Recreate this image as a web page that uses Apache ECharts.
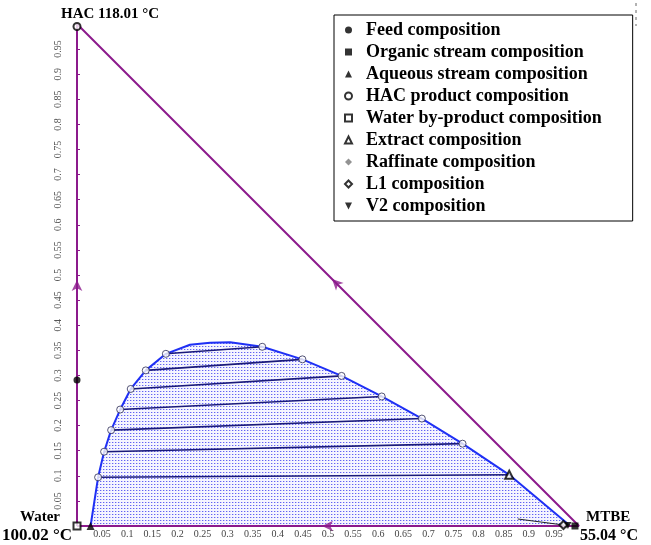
<!DOCTYPE html>
<html>
<head>
<meta charset="utf-8">
<script src="https://cdn.jsdelivr.net/npm/echarts@6/dist/echarts.min.js"></script>
<style>html,body{margin:0;padding:0;background:#fff}#c{width:651px;height:545px}</style>
</head>
<body>
<div id="c"></div>
<script>
// ---- data (mole fractions: x = MTBE, y = HAC) ----
var binodalX = [0.027, 0.042, 0.054, 0.068, 0.086, 0.107, 0.137, 0.177, 0.225, 0.265, 0.305, 0.369, 0.449, 0.527, 0.607, 0.687, 0.768, 0.861, 0.978];
var binodalY = [0.000, 0.097, 0.148, 0.191, 0.232, 0.273, 0.310, 0.343, 0.361, 0.365, 0.366, 0.357, 0.332, 0.299, 0.258, 0.214, 0.164, 0.102, 0.004];
var tieLeftX  = [0.042, 0.054, 0.068, 0.086, 0.107, 0.137, 0.177];
var tieLeftY  = [0.097, 0.148, 0.191, 0.232, 0.273, 0.310, 0.343];
var tieRightX = [0.861, 0.768, 0.687, 0.607, 0.527, 0.449, 0.369];
var tieRightY = [0.102, 0.164, 0.214, 0.258, 0.299, 0.332, 0.357];
var feedPt      = [0.000, 0.291];
var organicPt   = [0.992, 0.000];
var aqueousPt   = [0.027, 0.000];
var hacPt       = [0.000, 0.995];
var waterPt     = [0.000, 0.000];
var extractPt   = [0.861, 0.102];
var raffinatePt = [0.975, 0.002];
var l1Pt        = [0.969, 0.002];
var v2Pt        = [0.978, 0.001];
var azeoLabelPt = [0.878, 0.014];
var triangleX = [0, 1, 0, 0];
var triangleY = [0, 0, 1, 0];
var arrowX = [0.000, 0.488, 0.508];
var arrowY = [0.490, 0.000, 0.492];
var arrowRot = [0, 90, 45];
var tickStep = 0.05;

function zip(a, b) { return a.map(function (v, i) { return [v, b[i]]; }); }

var pat = document.createElement('canvas');
pat.width = 3; pat.height = 3;
var pc = pat.getContext('2d');
pc.fillStyle = '#f5f5ff'; pc.fillRect(0, 0, 3, 3);
pc.fillStyle = '#6262f2'; pc.fillRect(1, 1, 1, 1);
pc.fillStyle = '#c4c4fb'; pc.fillRect(2, 1, 1, 1);

var PURPLE = '#8c1a8c';
var serif = 'Liberation Serif';

var series = [];
series.push({
  type: 'line', data: zip(binodalX, binodalY), showSymbol: false, z: 3,
  lineStyle: { color: '#1f30f5', width: 2 },
  areaStyle: { color: { image: pat, repeat: 'repeat' }, opacity: 1, origin: 'start' },
  silent: true
});
for (var i = 0; i < tieLeftX.length; i++) {
  series.push({
    type: 'line', data: [[tieLeftX[i], tieLeftY[i]], [tieRightX[i], tieRightY[i]]],
    showSymbol: false, z: 4, lineStyle: { color: '#1a1a7a', width: 1.6 }, silent: true
  });
}
series.push({
  type: 'line', data: zip(triangleX, triangleY), showSymbol: false, z: 5,
  lineStyle: { color: PURPLE, width: 2 }, silent: true
});
series.push({
  type: 'scatter', z: 6, symbol: 'arrow', symbolSize: [8, 11],
  data: arrowX.map(function (v, i) { return { value: [v, arrowY[i]], symbolRotate: arrowRot[i] }; }),
  itemStyle: { color: PURPLE }, silent: true
});
series.push({
  type: 'scatter', z: 7, symbol: 'circle', symbolSize: 7,
  data: zip(tieLeftX, tieLeftY).concat(zip(tieRightX.slice(1), tieRightY.slice(1))),
  itemStyle: { color: '#fff', borderColor: '#2a2a55', borderWidth: 1 }, silent: true
});
series.push({
  type: 'line', data: [azeoLabelPt, l1Pt], showSymbol: false, z: 7,
  lineStyle: { color: '#222', width: 1 }, silent: true
});

var pts = [
  ['Feed composition', feedPt, 'circle', '#000', 7],
  ['Organic stream composition', organicPt, 'rect', '#000', 7],
  ['Aqueous stream composition', aqueousPt, 'triangle', '#000', 8],
  ['HAC product composition', hacPt, 'emptyCircle', '#000', 7],
  ['Water by-product composition', waterPt, 'emptyRect', '#000', 7],
  ['Extract composition', extractPt, 'emptyTriangle', '#000', 8],
  ['Raffinate composition', raffinatePt, 'diamond', '#777', 7],
  ['L1 composition', l1Pt, 'emptyDiamond', '#000', 8],
  ['V2 composition', v2Pt, 'path://M0,0 L10,0 L5,10 Z', '#000', 7]
];
pts.forEach(function (p) {
  series.push({
    name: p[0], type: 'scatter', z: 8, symbol: p[2], symbolSize: p[4],
    data: [p[1]], itemStyle: { color: p[3], borderWidth: 1 }
  });
});

var chart = echarts.init(document.getElementById('c'), null, { renderer: 'canvas' });
chart.setOption({
  animation: false,
  backgroundColor: '#fff',
  grid: { left: 77, top: 24, width: 502, height: 502, containLabel: false },
  xAxis: {
    type: 'value', min: 0, max: 1, interval: tickStep,
    axisLine: { show: false }, axisTick: { show: false }, splitLine: { show: false },
    axisLabel: {
      showMinLabel: false, showMaxLabel: false, margin: 3,
      color: '#444', fontFamily: serif, fontSize: 10,
      formatter: function (v) { return String(+v.toFixed(2)); }
    }
  },
  yAxis: {
    type: 'value', min: 0, max: 1, interval: tickStep,
    axisLine: { show: false },
    axisTick: { show: true, inside: true, length: 3, lineStyle: { color: PURPLE } },
    splitLine: { show: false },
    axisLabel: {
      showMinLabel: false, showMaxLabel: false, rotate: 90, margin: 14,
      color: '#555', fontFamily: serif, fontSize: 10,
      formatter: function (v) { return String(+v.toFixed(2)); }
    }
  },
  legend: {
    data: pts.map(function (p) { return p[0]; }),
    orient: 'vertical', left: 334, top: 15,
    padding: [6, 31, 6, 10],
    itemWidth: 7, itemHeight: 7, itemGap: 4,
    borderColor: '#000', borderWidth: 1, backgroundColor: '#fff',
    selectedMode: false,
    textStyle: { fontFamily: serif, fontWeight: 'bold', fontSize: 18, color: '#000', lineHeight: 18, padding: [0, 0, 0, 9] }
  },
  graphic: [
    { type: 'text', left: 61, top: 7, style: { text: 'HAC 118.01 °C', font: 'bold 15px "Liberation Serif"', fill: '#000' } },
    { type: 'text', right: 591, top: 510, style: { text: 'Water', font: 'bold 15px "Liberation Serif"', fill: '#000' } },
    { type: 'text', left: 2, top: 527, style: { text: '100.02 °C', font: 'bold 17px "Liberation Serif"', fill: '#000' } },
    { type: 'text', left: 586, top: 510, style: { text: 'MTBE', font: 'bold 15px "Liberation Serif"', fill: '#000' } },
    { type: 'text', left: 580, top: 528, style: { text: '55.04 °C', font: 'bold 16px "Liberation Serif"', fill: '#000' } },
    { type: 'text', left: 464, top: 494, style: { text: 'Azeotrope', font: 'bold 15px "Liberation Serif"', fill: '#000' } },
    { type: 'text', left: 481, top: 510, style: { text: '52.00 C', font: '10px "DejaVu Sans"', fill: '#333' } },
    { type: 'line', shape: { x1: 636, y1: 3, x2: 636, y2: 26 }, style: { stroke: '#666', lineWidth: 1, lineDash: [3, 4] } }
  ],
  series: series
});
</script>
</body>
</html>
